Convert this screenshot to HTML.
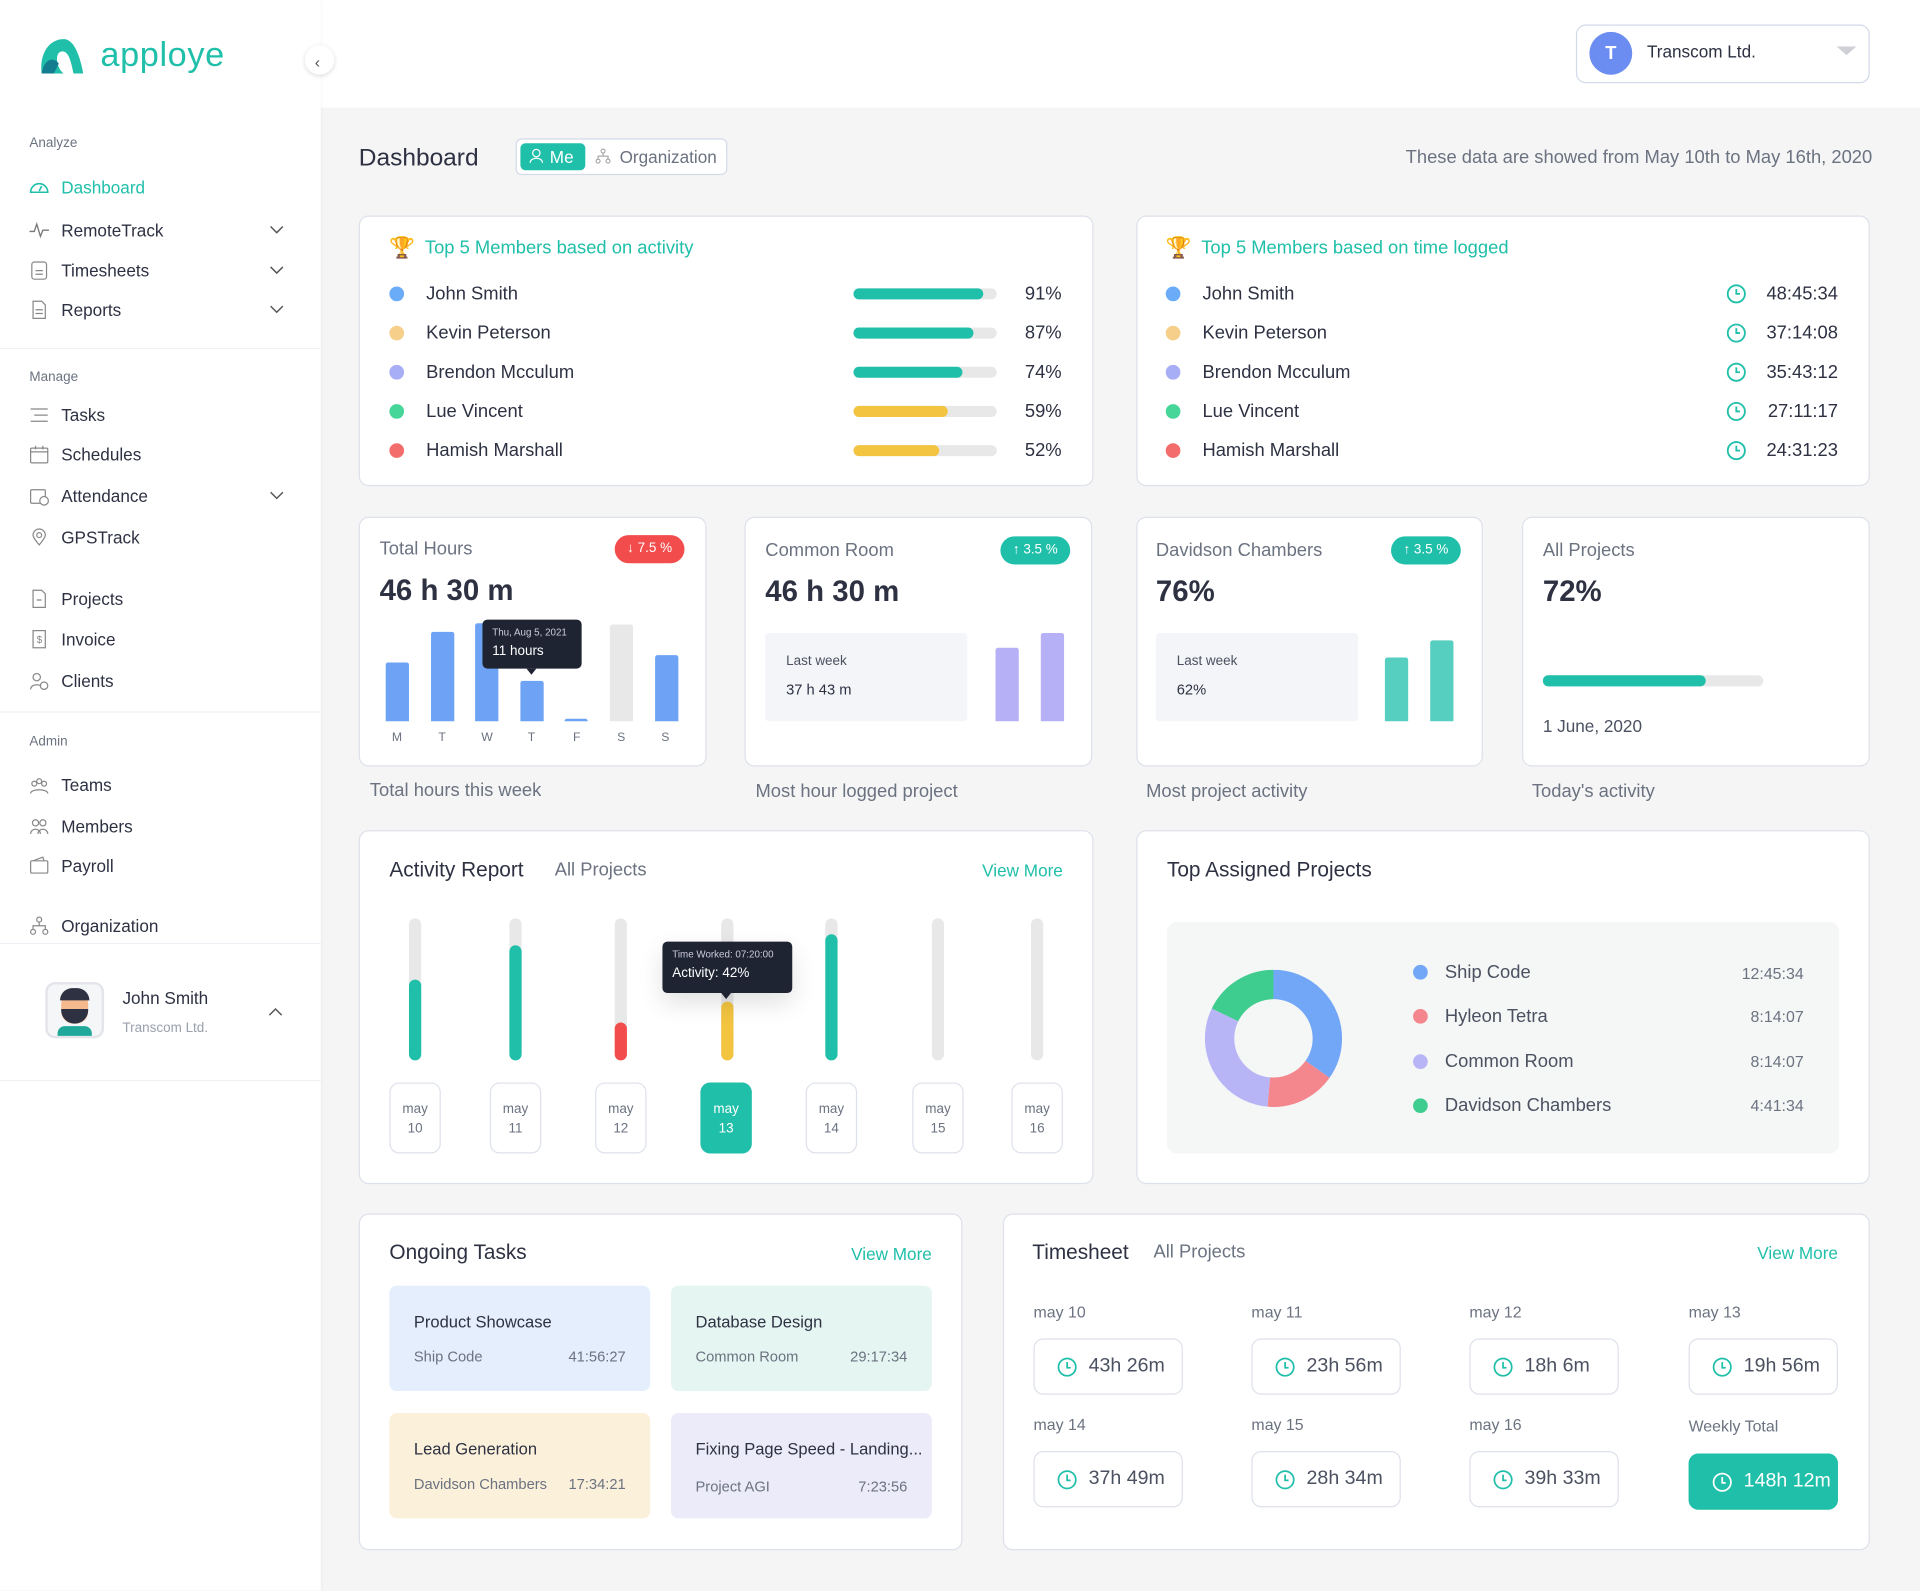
<!DOCTYPE html>
<html><head><meta charset="utf-8">
<style>
*{box-sizing:border-box;margin:0;padding:0}
html,body{width:1920px;height:1590px;overflow:hidden;background:#f5f5f6;font-family:"Liberation Sans",sans-serif;color:#2d3142}
#w{position:absolute;left:0;top:0;width:1568px;height:1299px;transform:scale(1.22449);transform-origin:0 0;background:#f5f5f6}
.a{position:absolute;white-space:nowrap}
.card{position:absolute;background:#fff;border:1px solid #dde1ea;border-radius:8px}
.t{color:#20bfa9}
.g{color:#6b7280}
.side{position:absolute;left:0;top:0;width:262px;height:1299px;background:#fff;box-shadow:1px 0 3px rgba(0,0,0,.04)}
.nav{position:absolute;left:50px;font-size:14px;color:#2d3142;transform:translateY(-50%)}
.sec{position:absolute;left:24px;font-size:11px;color:#6b7280;transform:translateY(-50%)}
.ico{position:absolute;left:24px;width:16px;height:16px;transform:translateY(-50%)}
.chev{position:absolute;left:220px;width:12px;height:8px;transform:translateY(-50%)}
.vc{transform:translateY(-50%)}
.dot{position:absolute;width:12px;height:12px;border-radius:50%;transform:translate(-50%,-50%)}
.trk{position:absolute;height:9px;border-radius:5px;background:#e8e8e8;transform:translateY(-50%)}
.trk i{display:block;height:100%;border-radius:5px}
.badge{position:absolute;height:23px;border-radius:12px;color:#fff;font-size:11px;text-align:center;line-height:23px}
.bar{position:absolute;width:19px;border-radius:2px 2px 0 0}
.vt{position:absolute;width:10px;background:#e8e8e8;border-radius:5px;top:750px;height:116px}
.vt i{position:absolute;left:0;bottom:0;width:10px;border-radius:5px}
.db{position:absolute;top:884px;width:42px;height:58px;border:1px solid #dde1ea;border-radius:8px;text-align:center;font-size:11px;color:#6b7280;line-height:16px;padding-top:13px;background:#fff}
.task{position:absolute;width:213px;height:86px;border-radius:6px}
.task b{position:absolute;left:20px;top:22px;font-size:13.5px;font-weight:normal;color:#2d3142}
.task s{position:absolute;left:20px;top:51px;font-size:12px;text-decoration:none;color:#6b7280}
.task u{position:absolute;right:20px;top:51px;font-size:12px;text-decoration:none;color:#6b7280}
.tl{position:absolute;font-size:13px;color:#6b7280}
.tb{position:absolute;width:122px;height:46px;border:1px solid #dde1ea;border-radius:8px;font-size:16px;color:#4b5160;line-height:44px;padding-left:44px;background:#fff}
.tb svg{position:absolute;left:18px;top:14px}
</style></head><body><div id="w">

<div class="a" style="left:262px;top:0;width:1306px;height:88px;background:#fff"></div>
<div class="a" style="left:1287px;top:20px;width:240px;height:48px;border:1px solid #d3dae8;border-radius:8px;background:#fff"></div>
<div class="a" style="left:1298px;top:26px;width:35px;height:35px;border-radius:50%;background:#6b8cf0;color:#fff;font-weight:bold;font-size:15px;text-align:center;line-height:35px">T</div>
<div class="a" style="left:1345px;top:34px;font-size:14px;color:#2d3142">Transcom Ltd.</div>
<div class="a" style="left:1500px;top:38px;width:0;height:0;border-left:8px solid transparent;border-right:8px solid transparent;border-top:7px solid #cfcfd6"></div>

<div class="side"></div>
<svg class="a" style="left:30px;top:30px" width="40" height="32" viewBox="0 0 40 32"><path d="M4 30 C2 14 10 2 22 2 C30 2 35 14 38 30 L30 30 C28 20 26 12 21 12 C14 12 16 26 22 30 Z" fill="#20bfa9"/><path d="M4 30 C6 18 14 16 18 22 L14 30 Z" fill="#137c8f"/></svg>
<div class="a" style="left:82px;top:29px;font-size:28px;color:#20bfa9;letter-spacing:0.5px">apploye</div>
<div class="a" style="left:249px;top:37px;width:24px;height:24px;border-radius:50%;background:#fff;box-shadow:0 1px 4px rgba(0,0,0,.15)"></div>
<div class="a" style="left:257px;top:43px;font-size:13px;color:#555">‹</div>

<div class="sec" style="top:117px">Analyze</div>
<svg class="ico" style="top:153px" viewBox="0 0 16 16"><path d="M1 12 A7 7 0 0 1 15 12 Z" fill="none" stroke="#20bfa9" stroke-width="1.3"/><path d="M8 11 L10 7" stroke="#20bfa9" stroke-width="1.3"/></svg>
<div class="nav t" style="top:153px;color:#20bfa9">Dashboard</div>
<svg class="ico" style="top:188px" viewBox="0 0 16 16"><path d="M0 9 H4 L6 3 L9 13 L11 8 H16" fill="none" stroke="#777" stroke-width="1.1"/></svg>
<div class="nav" style="top:188px">RemoteTrack</div>
<svg class="ico" style="top:221px" viewBox="0 0 16 16"><rect x="2" y="1" width="12" height="14" rx="2" fill="none" stroke="#888"/><path d="M5 8H11M5 11H11" stroke="#888"/></svg>
<div class="nav" style="top:221px">Timesheets</div>
<svg class="ico" style="top:253px" viewBox="0 0 16 16"><path d="M3 1H10L13 4V15H3Z" fill="none" stroke="#888"/><path d="M5 8H11M5 11H11" stroke="#888"/></svg>
<div class="nav" style="top:253px">Reports</div>
<svg class="chev" style="top:188px" viewBox="0 0 12 8"><path d="M1 1L6 6L11 1" fill="none" stroke="#555" stroke-width="1.2"/></svg>
<svg class="chev" style="top:221px" viewBox="0 0 12 8"><path d="M1 1L6 6L11 1" fill="none" stroke="#555" stroke-width="1.2"/></svg>
<svg class="chev" style="top:253px" viewBox="0 0 12 8"><path d="M1 1L6 6L11 1" fill="none" stroke="#555" stroke-width="1.2"/></svg>
<div class="a" style="left:0;top:284px;width:262px;height:1px;background:#eef0f3"></div>

<div class="sec" style="top:308px">Manage</div>
<svg class="ico" style="top:339px" viewBox="0 0 16 16"><path d="M1 3H15M4 8H15M1 13H15" stroke="#888"/></svg>
<div class="nav" style="top:339px">Tasks</div>
<svg class="ico" style="top:371px" viewBox="0 0 16 16"><rect x="1" y="3" width="14" height="12" rx="1" fill="none" stroke="#888"/><path d="M1 6H15M5 1V4M11 1V4" stroke="#888"/></svg>
<div class="nav" style="top:371px">Schedules</div>
<svg class="ico" style="top:405px" viewBox="0 0 16 16"><rect x="1" y="3" width="12" height="11" rx="1" fill="none" stroke="#888"/><circle cx="12" cy="12" r="3.5" fill="#fff" stroke="#888"/></svg>
<div class="nav" style="top:405px">Attendance</div>
<svg class="chev" style="top:405px" viewBox="0 0 12 8"><path d="M1 1L6 6L11 1" fill="none" stroke="#555" stroke-width="1.2"/></svg>
<svg class="ico" style="top:439px" viewBox="0 0 16 16"><path d="M8 14 C3 8 3 6 3 6 A5 5 0 0 1 13 6 C13 8 8 14 8 14Z" fill="none" stroke="#888"/><circle cx="8" cy="6" r="2" fill="none" stroke="#888"/></svg>
<div class="nav" style="top:439px">GPSTrack</div>
<svg class="ico" style="top:489px" viewBox="0 0 16 16"><path d="M3 1H10L13 4V15H3Z" fill="none" stroke="#888"/><path d="M6 9H10" stroke="#888"/></svg>
<div class="nav" style="top:489px">Projects</div>
<svg class="ico" style="top:522px" viewBox="0 0 16 16"><rect x="3" y="1" width="10" height="14" fill="none" stroke="#888"/><text x="6" y="11" font-size="8" fill="#888">$</text></svg>
<div class="nav" style="top:522px">Invoice</div>
<svg class="ico" style="top:556px" viewBox="0 0 16 16"><circle cx="6" cy="5" r="3" fill="none" stroke="#888"/><path d="M1 15C1 10 11 10 11 15" fill="none" stroke="#888"/><circle cx="12" cy="12" r="3" fill="#fff" stroke="#888"/></svg>
<div class="nav" style="top:556px">Clients</div>
<div class="a" style="left:0;top:581px;width:262px;height:1px;background:#eef0f3"></div>

<div class="sec" style="top:606px">Admin</div>
<svg class="ico" style="top:641px" viewBox="0 0 16 16"><circle cx="4" cy="7" r="2" fill="none" stroke="#888"/><circle cx="12" cy="7" r="2" fill="none" stroke="#888"/><circle cx="8" cy="5" r="2" fill="none" stroke="#888"/><path d="M1 15C1 11 15 11 15 15" fill="none" stroke="#888"/></svg>
<div class="nav" style="top:641px">Teams</div>
<svg class="ico" style="top:675px" viewBox="0 0 16 16"><circle cx="5" cy="5" r="2.5" fill="none" stroke="#888"/><circle cx="11" cy="5" r="2.5" fill="none" stroke="#888"/><path d="M1 14C1 9 9 9 9 14M7 14C7 9 15 9 15 14" fill="none" stroke="#888"/></svg>
<div class="nav" style="top:675px">Members</div>
<svg class="ico" style="top:707px" viewBox="0 0 16 16"><rect x="1" y="4" width="14" height="10" rx="1" fill="none" stroke="#888"/><path d="M3 4L11 1L12 4" fill="none" stroke="#888"/></svg>
<div class="nav" style="top:707px">Payroll</div>
<svg class="ico" style="top:756px" viewBox="0 0 16 16"><circle cx="8" cy="3" r="2" fill="none" stroke="#888"/><circle cx="3" cy="13" r="2" fill="none" stroke="#888"/><circle cx="13" cy="13" r="2" fill="none" stroke="#888"/><path d="M8 5V8M3 11V8H13V11" fill="none" stroke="#888"/></svg>
<div class="nav" style="top:756px">Organization</div>
<div class="a" style="left:0;top:770px;width:262px;height:1px;background:#eef0f3"></div>
<div class="a" style="left:37px;top:802px;width:48px;height:46px;border:2px solid #e3e5ea;border-radius:8px;background:#f5f6f8;overflow:hidden">
 <div class="a" style="left:11px;top:6px;width:22px;height:26px;border-radius:10px;background:#f5b98e"></div>
 <div class="a" style="left:10px;top:3px;width:24px;height:10px;border-radius:10px 10px 0 0;background:#2d3142"></div>
 <div class="a" style="left:11px;top:20px;width:22px;height:12px;border-radius:0 0 11px 11px;background:#2d3142"></div>
 <div class="a" style="left:8px;top:34px;width:28px;height:12px;border-radius:6px 6px 0 0;background:#20a99a"></div>
</div>
<div class="a" style="left:100px;top:807px;font-size:14px;color:#2d3142">John Smith</div>
<div class="a" style="left:100px;top:834px;font-size:11px;color:#9aa0ac">Transcom Ltd.</div>
<svg class="a" style="left:219px;top:822px" width="12" height="8" viewBox="0 0 12 8"><path d="M1 7L6 2L11 7" fill="none" stroke="#555" stroke-width="1.2"/></svg>
<div class="a" style="left:0;top:882px;width:262px;height:1px;background:#f0f1f4"></div>

<div class="a" style="left:293px;top:118px;font-size:20px;color:#2d3142">Dashboard</div>
<div class="a" style="left:421px;top:113px;width:173px;height:30px;border:1px solid #d3dae8;border-radius:5px;background:#fff"></div>
<div class="a" style="left:425px;top:117px;width:53px;height:22px;border-radius:4px;background:#20bfa9;color:#fff;font-size:14px;line-height:22px;padding-left:24px">Me</div>
<svg class="a" style="left:432px;top:121px" width="12" height="13" viewBox="0 0 12 13"><circle cx="6" cy="4" r="3" fill="none" stroke="#fff"/><path d="M1 12C1 7 11 7 11 12" fill="none" stroke="#fff"/></svg>
<svg class="a" style="left:486px;top:121px" width="13" height="13" viewBox="0 0 16 16"><circle cx="8" cy="3" r="2" fill="none" stroke="#999"/><circle cx="3" cy="13" r="2" fill="none" stroke="#999"/><circle cx="13" cy="13" r="2" fill="none" stroke="#999"/><path d="M8 5V8M3 11V8H13V11" fill="none" stroke="#999"/></svg>
<div class="a g" style="left:506px;top:120px;font-size:14px">Organization</div>
<div class="a g" style="right:39px;top:120px;font-size:15px">These data are showed from May 10th to May 16th, 2020</div>

<div class="card" style="left:293px;top:176px;width:600px;height:221px"></div>
<div class="a" style="left:318px;top:193px;font-size:17px">🏆</div>
<div class="a t" style="left:347px;top:194px;font-size:15px">Top 5 Members based on activity</div>
<div class="dot" style="left:324px;top:240px;background:#6aacf7"></div><div class="a vc" style="left:348px;top:240px;font-size:15px">John Smith</div>
<div class="dot" style="left:324px;top:272px;background:#f6cf8a"></div><div class="a vc" style="left:348px;top:272px;font-size:15px">Kevin Peterson</div>
<div class="dot" style="left:324px;top:304px;background:#a7aef5"></div><div class="a vc" style="left:348px;top:304px;font-size:15px">Brendon Mcculum</div>
<div class="dot" style="left:324px;top:336px;background:#46d69a"></div><div class="a vc" style="left:348px;top:336px;font-size:15px">Lue Vincent</div>
<div class="dot" style="left:324px;top:368px;background:#f46d6d"></div><div class="a vc" style="left:348px;top:368px;font-size:15px">Hamish Marshall</div>
<div class="trk" style="left:697px;top:240px;width:117px"><i style="width:91%;background:#20bfa9"></i></div>
<div class="trk" style="left:697px;top:272px;width:117px"><i style="width:84%;background:#20bfa9"></i></div>
<div class="trk" style="left:697px;top:304px;width:117px"><i style="width:76%;background:#20bfa9"></i></div>
<div class="trk" style="left:697px;top:336px;width:117px"><i style="width:66%;background:#f2c440"></i></div>
<div class="trk" style="left:697px;top:368px;width:117px"><i style="width:60%;background:#f2c440"></i></div>
<div class="a vc" style="right:701px;top:240px;font-size:15px">91%</div>
<div class="a vc" style="right:701px;top:272px;font-size:15px">87%</div>
<div class="a vc" style="right:701px;top:304px;font-size:15px">74%</div>
<div class="a vc" style="right:701px;top:336px;font-size:15px">59%</div>
<div class="a vc" style="right:701px;top:368px;font-size:15px">52%</div>

<div class="card" style="left:928px;top:176px;width:599px;height:221px"></div>
<div class="a" style="left:952px;top:193px;font-size:17px">🏆</div>
<div class="a t" style="left:981px;top:194px;font-size:15px">Top 5 Members based on time logged</div>
<div class="dot" style="left:958px;top:240px;background:#6aacf7"></div><div class="a vc" style="left:982px;top:240px;font-size:15px">John Smith</div>
<div class="dot" style="left:958px;top:272px;background:#f6cf8a"></div><div class="a vc" style="left:982px;top:272px;font-size:15px">Kevin Peterson</div>
<div class="dot" style="left:958px;top:304px;background:#a7aef5"></div><div class="a vc" style="left:982px;top:304px;font-size:15px">Brendon Mcculum</div>
<div class="dot" style="left:958px;top:336px;background:#46d69a"></div><div class="a vc" style="left:982px;top:336px;font-size:15px">Lue Vincent</div>
<div class="dot" style="left:958px;top:368px;background:#f46d6d"></div><div class="a vc" style="left:982px;top:368px;font-size:15px">Hamish Marshall</div>
<svg class="a" style="left:1409px;top:231px" width="18" height="145" viewBox="0 0 18 145">
<g fill="none" stroke="#20bfa9" stroke-width="1.5"><circle cx="9" cy="9" r="7"/><path d="M9 5V9H12"/><circle cx="9" cy="41" r="7"/><path d="M9 37V41H12"/><circle cx="9" cy="73" r="7"/><path d="M9 69V73H12"/><circle cx="9" cy="105" r="7"/><path d="M9 101V105H12"/><circle cx="9" cy="137" r="7"/><path d="M9 133V137H12"/></g></svg>
<div class="a vc" style="right:67px;top:240px;font-size:15px">48:45:34</div>
<div class="a vc" style="right:67px;top:272px;font-size:15px">37:14:08</div>
<div class="a vc" style="right:67px;top:304px;font-size:15px">35:43:12</div>
<div class="a vc" style="right:67px;top:336px;font-size:15px">27:11:17</div>
<div class="a vc" style="right:67px;top:368px;font-size:15px">24:31:23</div>

<div class="card" style="left:293px;top:422px;width:284px;height:204px"></div>
<div class="a g" style="left:310px;top:440px;font-size:15px">Total Hours</div>
<div class="badge" style="left:502px;top:437px;width:57px;background:#f24c4c">↓ 7.5 %</div>
<div class="a" style="left:310px;top:469px;font-size:24px;font-weight:bold">46 h 30 m</div>
<div class="bar" style="left:315px;top:541px;height:48px;background:#6ea2f5"></div>
<div class="bar" style="left:352px;top:516px;height:73px;background:#6ea2f5"></div>
<div class="bar" style="left:388px;top:509px;height:80px;background:#6ea2f5"></div>
<div class="bar" style="left:425px;top:556px;height:33px;background:#6ea2f5"></div>
<div class="bar" style="left:461px;top:587px;height:2px;background:#6ea2f5"></div>
<div class="bar" style="left:498px;top:510px;height:79px;background:#e8e8e8"></div>
<div class="bar" style="left:535px;top:535px;height:54px;background:#6ea2f5"></div>
<div class="a" style="left:394px;top:506px;width:81px;height:40px;background:#1f2433;border-radius:4px;color:#fff;padding:6px 8px"><div style="font-size:8px;color:#ccd">Thu, Aug 5, 2021</div><div style="font-size:11px;margin-top:5px">11 hours</div></div>
<div class="a" style="left:430px;top:546px;border-left:4px solid transparent;border-right:4px solid transparent;border-top:5px solid #1f2433"></div>
<div class="a g" style="left:320px;top:597px;font-size:10px">M</div>
<div class="a g" style="left:358px;top:597px;font-size:10px">T</div>
<div class="a g" style="left:393px;top:597px;font-size:10px">W</div>
<div class="a g" style="left:431px;top:597px;font-size:10px">T</div>
<div class="a g" style="left:468px;top:597px;font-size:10px">F</div>
<div class="a g" style="left:504px;top:597px;font-size:10px">S</div>
<div class="a g" style="left:540px;top:597px;font-size:10px">S</div>
<div class="a g" style="left:302px;top:637px;font-size:15px">Total hours this week</div>

<div class="card" style="left:608px;top:422px;width:284px;height:204px"></div>
<div class="a g" style="left:625px;top:441px;font-size:15px">Common Room</div>
<div class="badge" style="left:817px;top:438px;width:57px;background:#20bfa9">↑ 3.5 %</div>
<div class="a" style="left:625px;top:470px;font-size:24px;font-weight:bold">46 h 30 m</div>
<div class="a" style="left:625px;top:517px;width:165px;height:72px;background:#f4f5f8;border-radius:3px"></div>
<div class="a" style="left:642px;top:534px;font-size:11px;color:#4b5160">Last week</div>
<div class="a" style="left:642px;top:556px;font-size:12px;color:#2d3142">37 h 43 m</div>
<div class="bar" style="left:813px;top:529px;height:60px;background:#b6b1f6"></div>
<div class="bar" style="left:850px;top:517px;height:72px;background:#b6b1f6"></div>
<div class="a g" style="left:617px;top:638px;font-size:15px">Most hour logged project</div>

<div class="card" style="left:928px;top:422px;width:283px;height:204px"></div>
<div class="a g" style="left:944px;top:441px;font-size:15px">Davidson Chambers</div>
<div class="badge" style="left:1136px;top:438px;width:57px;background:#20bfa9">↑ 3.5 %</div>
<div class="a" style="left:944px;top:470px;font-size:24px;font-weight:bold">76%</div>
<div class="a" style="left:944px;top:517px;width:165px;height:72px;background:#f4f5f8;border-radius:3px"></div>
<div class="a" style="left:961px;top:534px;font-size:11px;color:#4b5160">Last week</div>
<div class="a" style="left:961px;top:556px;font-size:12px;color:#2d3142">62%</div>
<div class="bar" style="left:1131px;top:537px;height:52px;background:#56cfc0"></div>
<div class="bar" style="left:1168px;top:523px;height:66px;background:#56cfc0"></div>
<div class="a g" style="left:936px;top:638px;font-size:15px">Most project activity</div>

<div class="card" style="left:1243px;top:422px;width:284px;height:204px"></div>
<div class="a g" style="left:1260px;top:441px;font-size:15px">All Projects</div>
<div class="a" style="left:1260px;top:470px;font-size:24px;font-weight:bold">72%</div>
<div class="trk" style="left:1260px;top:556px;width:180px"><i style="width:74%;background:#20bfa9"></i></div>
<div class="a" style="left:1260px;top:585px;font-size:14px;color:#4b5160">1 June, 2020</div>
<div class="a g" style="left:1251px;top:638px;font-size:15px">Today's activity</div>

<div class="card" style="left:293px;top:678px;width:600px;height:289px"></div>
<div class="a" style="left:318px;top:701px;font-size:17px">Activity Report</div>
<div class="a g" style="left:453px;top:702px;font-size:15px">All Projects</div>
<div class="a t" style="right:700px;top:703px;font-size:14px">View More</div>
<div class="vt" style="left:334px"><i style="height:66px;background:#20bfa9"></i></div>
<div class="vt" style="left:416px"><i style="height:94px;background:#20bfa9"></i></div>
<div class="vt" style="left:502px"><i style="height:31px;background:#f24c4c"></i></div>
<div class="vt" style="left:589px"><i style="height:48px;background:#f2c440"></i></div>
<div class="vt" style="left:674px"><i style="height:103px;background:#20bfa9"></i></div>
<div class="vt" style="left:761px"></div>
<div class="vt" style="left:842px"></div>
<div class="a" style="left:541px;top:769px;width:106px;height:42px;background:#1f2433;border-radius:4px;color:#fff;padding:6px 8px;box-shadow:0 8px 20px rgba(0,0,0,.12)"><div style="font-size:8px;color:#ccd">Time Worked: 07:20:00</div><div style="font-size:11px;margin-top:5px">Activity: 42%</div></div>
<div class="a" style="left:589px;top:811px;border-left:4px solid transparent;border-right:4px solid transparent;border-top:5px solid #1f2433"></div>
<div class="db" style="left:318px">may<br>10</div>
<div class="db" style="left:400px">may<br>11</div>
<div class="db" style="left:486px">may<br>12</div>
<div class="db" style="left:572px;background:#20bfa9;border-color:#20bfa9;color:#fff">may<br>13</div>
<div class="db" style="left:658px">may<br>14</div>
<div class="db" style="left:745px">may<br>15</div>
<div class="db" style="left:826px">may<br>16</div>

<div class="card" style="left:928px;top:678px;width:599px;height:289px"></div>
<div class="a" style="left:953px;top:701px;font-size:17px">Top Assigned Projects</div>
<div class="a" style="left:953px;top:753px;width:549px;height:189px;background:#f5f6f6;border-radius:8px"></div>
<svg class="a" style="left:984px;top:792px" width="112" height="112" viewBox="0 0 112 112">
<g transform="rotate(-90 56 56)" fill="none" stroke-width="24">
<circle cx="56" cy="56" r="44" stroke="#72a6f7" stroke-dasharray="96 181" stroke-dashoffset="0"/>
<circle cx="56" cy="56" r="44" stroke="#f4868d" stroke-dasharray="46 231" stroke-dashoffset="-96"/>
<circle cx="56" cy="56" r="44" stroke="#b8b5f7" stroke-dasharray="85 192" stroke-dashoffset="-142"/>
<circle cx="56" cy="56" r="44" stroke="#3fcc8f" stroke-dasharray="50 227" stroke-dashoffset="-227"/>
</g></svg>
<div class="dot" style="left:1160px;top:794px;background:#72a6f7"></div><div class="a vc" style="left:1180px;top:794px;font-size:15px;color:#4b5160">Ship Code</div>
<div class="dot" style="left:1160px;top:830px;background:#f4868d"></div><div class="a vc" style="left:1180px;top:830px;font-size:15px;color:#4b5160">Hyleon Tetra</div>
<div class="dot" style="left:1160px;top:867px;background:#b8b5f7"></div><div class="a vc" style="left:1180px;top:867px;font-size:15px;color:#4b5160">Common Room</div>
<div class="dot" style="left:1160px;top:903px;background:#3fcc8f"></div><div class="a vc" style="left:1180px;top:903px;font-size:15px;color:#4b5160">Davidson Chambers</div>
<div class="a vc g" style="right:95px;top:795px;font-size:13px">12:45:34</div>
<div class="a vc g" style="right:95px;top:830px;font-size:13px">8:14:07</div>
<div class="a vc g" style="right:95px;top:867px;font-size:13px">8:14:07</div>
<div class="a vc g" style="right:95px;top:903px;font-size:13px">4:41:34</div>

<div class="card" style="left:293px;top:991px;width:493px;height:275px"></div>
<div class="a" style="left:318px;top:1013px;font-size:17px">Ongoing Tasks</div>
<div class="a t" style="right:807px;top:1016px;font-size:14px">View More</div>
<div class="task" style="left:318px;top:1050px;background:#e5eefc"><b>Product Showcase</b><s>Ship Code</s><u>41:56:27</u></div>
<div class="task" style="left:548px;top:1050px;background:#e5f5f2"><b>Database Design</b><s>Common Room</s><u>29:17:34</u></div>
<div class="task" style="left:318px;top:1154px;background:#fbf0da"><b>Lead Generation</b><s>Davidson Chambers</s><u>17:34:21</u></div>
<div class="task" style="left:548px;top:1154px;background:#ecebfa"><b>Fixing Page Speed - Landing...</b><s style="top:53px">Project AGI</s><u style="top:53px">7:23:56</u></div>

<div class="card" style="left:819px;top:991px;width:708px;height:275px"></div>
<div class="a" style="left:843px;top:1013px;font-size:17px">Timesheet</div>
<div class="a g" style="left:942px;top:1014px;font-size:15px">All Projects</div>
<div class="a t" style="right:67px;top:1015px;font-size:14px">View More</div>
<div class="tl" style="left:844px;top:1064px">may 10</div>
<div class="tl" style="left:1022px;top:1064px">may 11</div>
<div class="tl" style="left:1200px;top:1064px">may 12</div>
<div class="tl" style="left:1379px;top:1064px">may 13</div>
<div class="tl" style="left:844px;top:1156px">may 14</div>
<div class="tl" style="left:1022px;top:1156px">may 15</div>
<div class="tl" style="left:1200px;top:1156px">may 16</div>
<div class="tl" style="left:1379px;top:1157px">Weekly Total</div>
<div class="tb" style="left:844px;top:1093px"><svg width="17" height="17" viewBox="0 0 18 18"><circle cx="9" cy="9" r="7.5" fill="none" stroke="#20bfa9" stroke-width="1.5"/><path d="M9 4.5V9.5H12" fill="none" stroke="#20bfa9" stroke-width="1.5"/></svg>43h 26m</div>
<div class="tb" style="left:1022px;top:1093px"><svg width="17" height="17" viewBox="0 0 18 18"><circle cx="9" cy="9" r="7.5" fill="none" stroke="#20bfa9" stroke-width="1.5"/><path d="M9 4.5V9.5H12" fill="none" stroke="#20bfa9" stroke-width="1.5"/></svg>23h 56m</div>
<div class="tb" style="left:1200px;top:1093px"><svg width="17" height="17" viewBox="0 0 18 18"><circle cx="9" cy="9" r="7.5" fill="none" stroke="#20bfa9" stroke-width="1.5"/><path d="M9 4.5V9.5H12" fill="none" stroke="#20bfa9" stroke-width="1.5"/></svg>18h 6m</div>
<div class="tb" style="left:1379px;top:1093px"><svg width="17" height="17" viewBox="0 0 18 18"><circle cx="9" cy="9" r="7.5" fill="none" stroke="#20bfa9" stroke-width="1.5"/><path d="M9 4.5V9.5H12" fill="none" stroke="#20bfa9" stroke-width="1.5"/></svg>19h 56m</div>
<div class="tb" style="left:844px;top:1185px"><svg width="17" height="17" viewBox="0 0 18 18"><circle cx="9" cy="9" r="7.5" fill="none" stroke="#20bfa9" stroke-width="1.5"/><path d="M9 4.5V9.5H12" fill="none" stroke="#20bfa9" stroke-width="1.5"/></svg>37h 49m</div>
<div class="tb" style="left:1022px;top:1185px"><svg width="17" height="17" viewBox="0 0 18 18"><circle cx="9" cy="9" r="7.5" fill="none" stroke="#20bfa9" stroke-width="1.5"/><path d="M9 4.5V9.5H12" fill="none" stroke="#20bfa9" stroke-width="1.5"/></svg>28h 34m</div>
<div class="tb" style="left:1200px;top:1185px"><svg width="17" height="17" viewBox="0 0 18 18"><circle cx="9" cy="9" r="7.5" fill="none" stroke="#20bfa9" stroke-width="1.5"/><path d="M9 4.5V9.5H12" fill="none" stroke="#20bfa9" stroke-width="1.5"/></svg>39h 33m</div>
<div class="tb" style="left:1379px;top:1187px;background:#20bfa9;border-color:#20bfa9;color:#fff"><svg width="17" height="17" viewBox="0 0 18 18"><circle cx="9" cy="9" r="7.5" fill="none" stroke="#fff" stroke-width="1.5"/><path d="M9 4.5V9.5H12" fill="none" stroke="#fff" stroke-width="1.5"/></svg>148h 12m</div>

</div></body></html>
